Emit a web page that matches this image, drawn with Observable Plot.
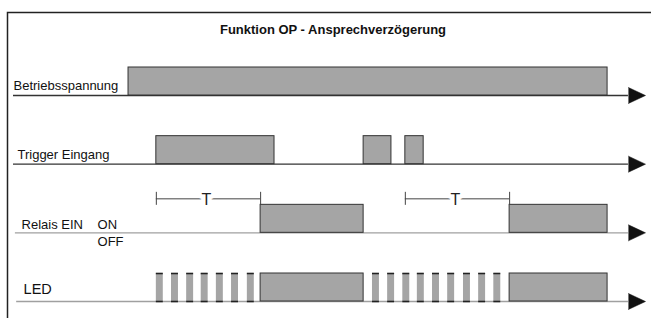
<!DOCTYPE html>
<html><head><meta charset="utf-8">
<script src="https://cdn.jsdelivr.net/npm/d3@7"></script>
<script src="https://cdn.jsdelivr.net/npm/@observablehq/plot@0.6"></script>
<style>html,body{margin:0;padding:0;background:#fff;overflow:hidden}</style>
</head><body><div id="chart"></div>
<script>
// ---- data (time in arbitrary units, 0..100) ----
const title = "Funktion OP - Ansprechverzögerung";
const rows = ["Betriebsspannung", "Trigger Eingang", "Relais EIN", "LED"];
const supplyOn = [[18.2, 94.0]];
const triggerOn = [[22.6, 41.3], [55.4, 59.8], [62.0, 64.9]];
const relayOn = [[39.1, 55.4], [78.5, 94.0]];
const ledSteady = [[39.1, 55.4], [78.5, 94.0]];
const ledBlinkStart = [22.6, 25.0, 27.4, 29.7, 32.1, 34.5, 37.0,
                       56.8, 59.2, 61.6, 63.9, 66.3, 68.7, 71.2, 73.6, 76.0];
const ledBlinkWidth = 1.1;
const delayStart = [22.6, 62.0];
const delayT = 16.5;
const delayLabel = "T";
const relayStates = ["ON", "OFF"];

// ---- layout helpers ----
const unit = (301 - 95) / 3;          // px per row on the y scale
const py = p => p / unit;             // px -> y units
const hi = py(28);                    // pulse height
const arrowBase = 97.3, arrowTip = 100;

const segs = [
  ...supplyOn.map(([a, b]) => ({row: 0, a, b})),
  ...triggerOn.map(([a, b]) => ({row: 1, a, b})),
  ...relayOn.map(([a, b]) => ({row: 2, a, b})),
  ...ledSteady.map(([a, b]) => ({row: 3, a, b}))
];
const blinks = ledBlinkStart.map(s => ({row: 3, a: s, b: s + ledBlinkWidth}));
const axisInset = [0, 0, 0.3, 0.5];
const axisColor = ["#333", "#333", "#a0a0a0", "#a0a0a0"];
const axes = rows.map((r, i) => ({row: i, a: axisInset[i], b: arrowBase, c: axisColor[i]}));
const arrows = rows.flatMap((r, i) => [
  {row: i, x: arrowBase, y: i - py(8)},
  {row: i, x: arrowTip, y: i},
  {row: i, x: arrowBase, y: i + py(8)}
]);
const labelIndent = [0, 0.63, 1.27, 1.6];
const labelLift = [5.5, 5, 3.5, 8];
const labelSize = [13, 13, 13, 14.5];
const ticks = delayStart.flatMap(d => [d, d + delayT]);
const markY = 2 - py(34);

const chart = Plot.plot({
  width: 651, height: 318, margin: 0,
  x: {domain: [0, 100], range: [13, 645]},
  y: {domain: [0, 3], range: [95, 301]},
  style: {fontFamily: "'Liberation Sans', Arial, Helvetica, sans-serif", background: "#fff", color: "#111"},
  marks: [
    Plot.frame({insetLeft: 7, insetTop: 12, insetRight: -10, insetBottom: -10, stroke: "#222", strokeWidth: 1.5}),
    Plot.text([title], {frameAnchor: "top", text: d => d, dx: 7, dy: 33, lineAnchor: "bottom",
      fontWeight: "bold", fontSize: 13, fill: "#111"}),
    Plot.ruleY(axes, {x1: "a", x2: "b", y: "row", stroke: "c", strokeWidth: 1.4}),
    Plot.line(arrows, {x: "x", y: "y", z: "row", fill: "#111", stroke: "#111", strokeWidth: 0.5}),
    Plot.rect(segs, {x1: "a", x2: "b", y1: d => d.row - hi, y2: "row", fill: "#a5a5a5", stroke: "#333", strokeWidth: 1}),
    Plot.rect(blinks, {x1: "a", x2: "b", y1: d => d.row - hi, y2: "row", fill: "#a5a5a5"}),
    Plot.ruleY(blinks, {x1: "a", x2: "b", y: d => d.row - hi, stroke: "#222", strokeWidth: 1.6}),
    Plot.ruleY(blinks, {x1: "a", x2: "b", y: "row", stroke: "#222", strokeWidth: 1.6}),
    Plot.text(rows, {x: (d, i) => labelIndent[i], y: (d, i) => i - py(labelLift[i]), text: d => d,
      textAnchor: "start", lineAnchor: "bottom", fontSize: (d, i) => labelSize[i], fill: "#111"}),
    Plot.text(relayStates, {x: () => 13.3, y: (d, i) => i === 0 ? 2 - py(3.5) : 2 + py(13.5), text: d => d,
      textAnchor: "start", lineAnchor: "bottom", fontSize: 13, fill: "#111"}),
    Plot.ruleY(delayStart, {x1: d => d, x2: d => d + delayT, y: () => markY, stroke: "#444", strokeWidth: 1}),
    Plot.ruleX(ticks, {x: d => d, y1: () => markY - py(6.5), y2: () => markY + py(6.5), stroke: "#444", strokeWidth: 1}),
    Plot.text(delayStart, {x: d => d + delayT / 2, y: () => markY, text: () => delayLabel, dx: -2, dy: 6,
      lineAnchor: "bottom", fontSize: 16, fill: "#222", stroke: "white", strokeWidth: 9, paintOrder: "stroke"})
  ]
});
document.getElementById("chart").appendChild(chart);
</script>
</body></html>
